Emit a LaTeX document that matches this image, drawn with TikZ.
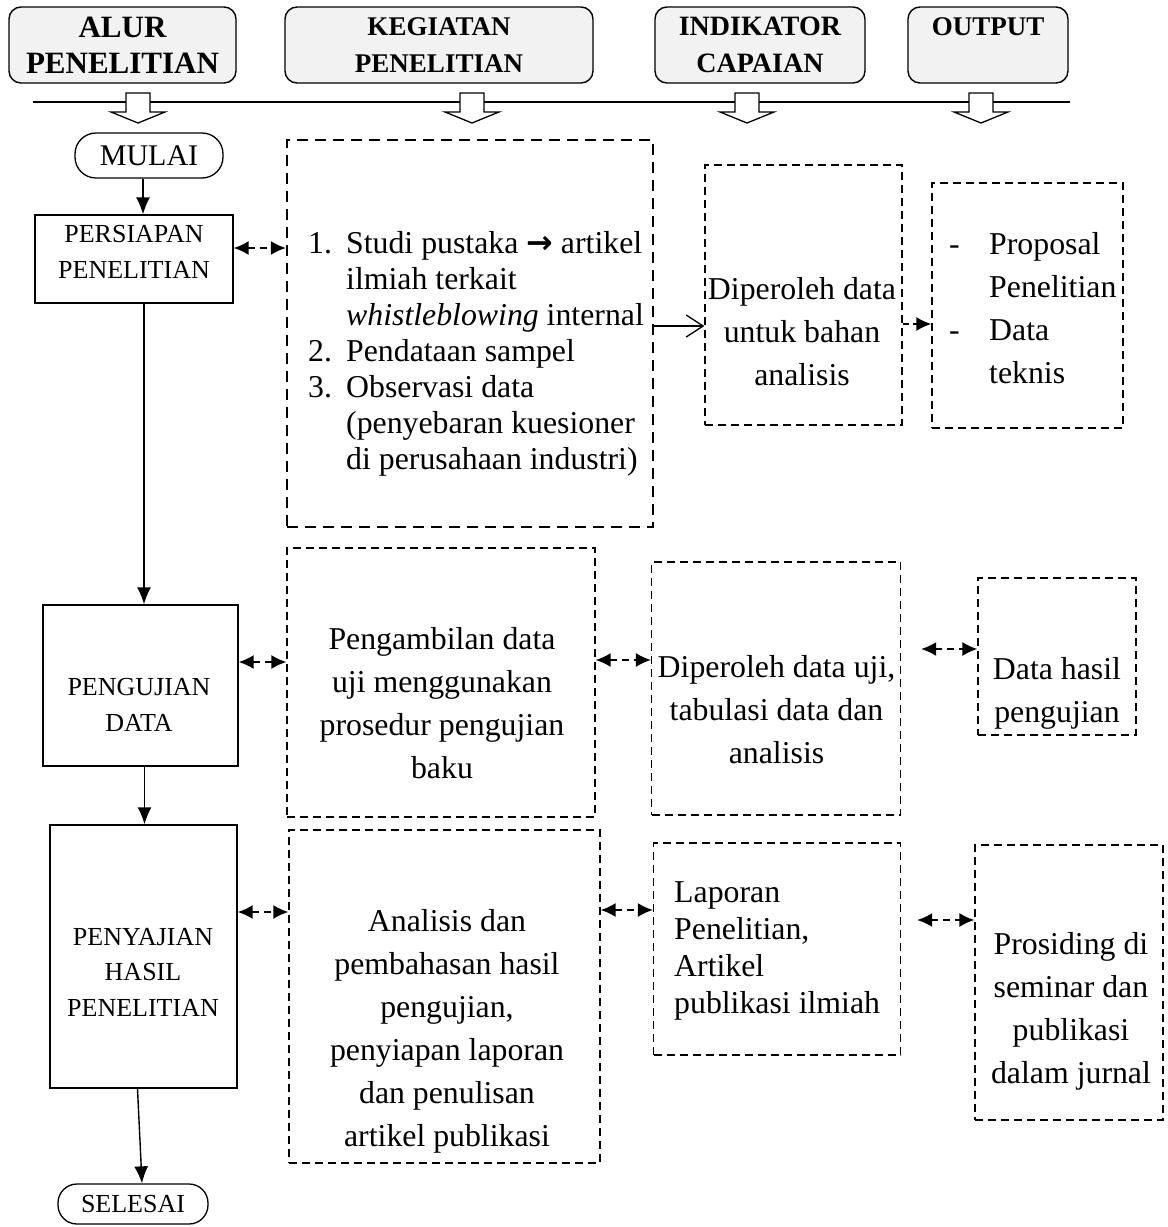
\documentclass[tikz,border=0pt]{standalone}
\usepackage{fontspec}
\setmainfont{Liberation Serif}
\newfontfamily\arrowfont{DejaVu Sans}
\usetikzlibrary{arrows.meta,calc}

\begin{document}
\begin{tikzpicture}[x=1pt, y=-1pt,
    headbox/.style={draw, rounded corners=12pt, fill=gray!10, line width=1.4pt, inner sep=0pt, align=center, font=\fontsize{27}{37}\selectfont\bfseries},
    termbox/.style={draw, rounded corners=21pt, line width=1.3pt, inner sep=0pt},
    flowbox/.style={draw, line width=1.4pt, inner sep=0pt},
    dashbox/.style={draw, dash pattern=on 8pt off 5pt, line width=1.3pt, inner sep=0pt},
    thickdash/.style={draw, dash pattern=on 11pt off 7pt, line width=2.3pt, inner sep=0pt},
    txt/.style={inner sep=0pt, align=center, font=\fontsize{31.8}{43}\selectfont},
    smalltxt/.style={inner sep=0pt, align=center, font=\fontsize{26}{35.5}\selectfont},
    flow/.style={-{Latex[length=17pt,width=14pt]}, line width=1.4pt},
    duo/.style={{Latex[length=15pt,width=14pt]}-{Latex[length=15pt,width=14pt]}, dash pattern=on 7pt off 5pt, line width=1.6pt}]
    \useasboundingbox (0,0) rectangle (1168,1227);

    % Header
    \node[headbox, minimum width=227pt, minimum height=76pt, font=\fontsize{31}{36}\selectfont\bfseries] (hAlur) at (122.5,45) {ALUR\\PENELITIAN};
    \node[headbox, minimum width=308pt, minimum height=76pt] (hKegiatan) at (439,45) {KEGIATAN\\PENELITIAN};
    \node[headbox, minimum width=210pt, minimum height=76pt, font=\fontsize{28}{37}\selectfont\bfseries] (hIndikator) at (760,45) {INDIKATOR\\CAPAIAN};
    \node[headbox, minimum width=160pt, minimum height=76pt] (hOutput) at (988,45) {OUTPUT\\\mbox{}};
    \draw[line width=1.4pt] (33,102) -- (1070,102);
    \foreach \hx in {138,472,747,981}
        \draw[line width=1.3pt, fill=white] (\hx-12,93) -- (\hx-12,112) -- (\hx-27,112) -- (\hx,123) -- (\hx+27,112) -- (\hx+12,112) -- (\hx+12,93) -- cycle;

    % Alur penelitian (left column)
    \node[termbox, minimum width=148pt, minimum height=45pt, font=\fontsize{30}{36}\selectfont] (mulai) at (149,155.5) {MULAI};
    \node[flowbox, minimum width=198pt, minimum height=88pt] (persiapan) at (134,259) {};
    \node[smalltxt] (tPersiapan) at (134,252) {PERSIAPAN\\PENELITIAN};
    \node[flowbox, minimum width=195pt, minimum height=161pt] (pengujian) at (140.5,685.5) {};
    \node[smalltxt] (tPengujian) at (139,705) {PENGUJIAN\\DATA};
    \node[flowbox, minimum width=187pt, minimum height=263pt] (penyajian) at (143.5,956.5) {};
    \node[smalltxt] (tPenyajian) at (143,972) {PENYAJIAN\\HASIL\\PENELITIAN};
    \node[termbox, minimum width=150pt, minimum height=40pt, rounded corners=19pt, font=\fontsize{26}{32}\selectfont] (selesai) at (133,1204) {SELESAI};

    \draw[flow] ([xshift=-6pt]mulai.south) -- ([xshift=-6pt]mulai.south |- persiapan.north);
    \draw[flow] ([xshift=10pt]persiapan.south) -- ([xshift=10pt]persiapan.south |- pengujian.north);
    \draw[flow] ([xshift=4pt]pengujian.south) -- ([xshift=4pt]pengujian.south |- penyajian.north);
    \draw[flow] ([xshift=-6pt]penyajian.south) -- ([xshift=9pt]selesai.north);

    % Kegiatan penelitian
    \node[thickdash, minimum width=366pt, minimum height=387pt] (studi) at (470,333.5) {};
    \node[txt, font=\fontsize{31.8}{36}\selectfont, align=left, anchor=west] (tStudi) at (308,354)
        {\makebox[38pt][l]{1.}Studi pustaka {\arrowfont\bfseries →} artikel\\
         \hspace*{38pt}ilmiah terkait\\
         \hspace*{38pt}\textit{whistleblowing} internal\\
         \makebox[38pt][l]{2.}Pendataan sampel\\
         \makebox[38pt][l]{3.}Observasi data\\
         \hspace*{38pt}(penyebaran kuesioner\\
         \hspace*{38pt}di perusahaan industri)};
    \node[dashbox, minimum width=308pt, minimum height=269pt] (ambil) at (441,682.5) {};
    \node[txt] (tAmbil) at (442,703) {Pengambilan data\\uji menggunakan\\prosedur pengujian\\baku};
    \node[dashbox, minimum width=311pt, minimum height=333pt] (analisis) at (444.5,996.5) {};
    \node[txt] (tAnalisis) at (447,1031) {Analisis dan\\pembahasan hasil\\pengujian,\\penyiapan laporan\\dan penulisan\\artikel publikasi};

    % Indikator capaian
    \node[dashbox, minimum width=197pt, minimum height=260pt] (peroleh) at (803.5,295) {};
    \node[txt] (tPeroleh) at (802,332) {Diperoleh data\\untuk bahan\\analisis};
    \node[dashbox, minimum width=249pt, minimum height=253pt] (uji) at (776,688.5) {};
    \node[txt] (tUji) at (776.5,710) {Diperoleh data uji,\\tabulasi data dan\\analisis};
    \node[dashbox, minimum width=247pt, minimum height=212pt] (laporan) at (777,949) {};
    \node[txt, font=\fontsize{31.8}{37}\selectfont, align=left, anchor=west] (tLaporan) at (674,951) {Laporan\\Penelitian,\\Artikel\\publikasi ilmiah};

    % Output
    \node[dashbox, minimum width=191pt, minimum height=245pt] (proposal) at (1027.5,305.5) {};
    \node[txt, align=left, anchor=west] (tProposal) at (949,308)
        {\makebox[40pt][l]{-}Proposal\\\hspace*{40pt}Penelitian\\\makebox[40pt][l]{-}Data\\\hspace*{40pt}teknis};
    \node[dashbox, minimum width=158pt, minimum height=157pt] (hasil) at (1057,656.5) {};
    \node[txt] (tHasil) at (1057,693) {Data hasil\\pengujian};
    \node[dashbox, minimum width=188pt, minimum height=275pt] (prosiding) at (1069,982.5) {};
    \node[txt] (tProsiding) at (1071,1011) {Prosiding di\\seminar dan\\publikasi\\dalam jurnal};

    % Links between columns
    \draw[duo] ([yshift=11pt]persiapan.east) -- ([yshift=11pt]persiapan.east -| studi.west);
    \draw[-{Straight Barb[length=17pt,width=22pt]}, line width=1.3pt] ([yshift=7.5pt]studi.east) -- ([yshift=7.5pt]studi.east -| peroleh.west);
    \draw[-{Latex[length=15pt,width=14pt]}, dash pattern=on 6pt off 4pt, line width=1.6pt] ([yshift=-29pt]peroleh.east) -- ([yshift=-29pt]peroleh.east -| proposal.west);
    \draw[duo] ([yshift=23.5pt]pengujian.east) -- ([yshift=23.5pt]pengujian.east -| ambil.west);
    \draw[duo] ([yshift=22.5pt]ambil.east) -- ([yshift=22.5pt]ambil.east -| uji.west);
    \draw[duo] ($(uji.east |- hasil.west)+(20,-7.5)$) -- ([yshift=7.5pt]hasil.west);
    \draw[duo] ([yshift=44.5pt]penyajian.east) -- ([yshift=44.5pt]penyajian.east -| analisis.west);
    \draw[duo] ([yshift=39pt]laporan.west -| analisis.east) -- ([yshift=39pt]laporan.west);
    \draw[duo] ($(laporan.east)+(16,-29)$) -- ([yshift=29pt]laporan.east -| prosiding.west);
\end{tikzpicture}
\end{document}
